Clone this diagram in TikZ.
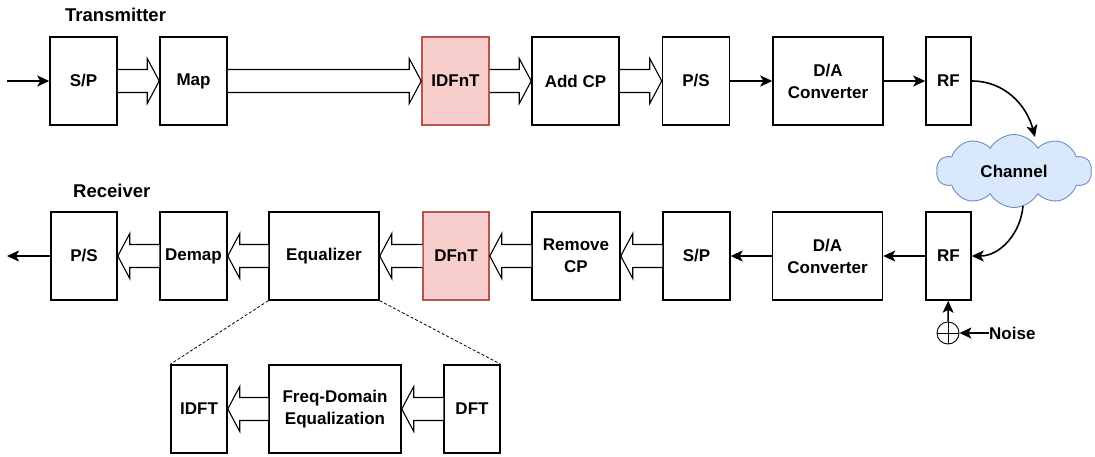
\documentclass[tikz,border=0pt]{standalone}
\usepackage{fontspec}
\setmainfont{Liberation Sans}
\usetikzlibrary{arrows.meta,shapes.symbols,calc}

\definecolor{dfntfill}{HTML}{F8CECC}
\definecolor{dfntline}{HTML}{B85450}
\definecolor{cloudfill}{HTML}{DAE8FC}
\definecolor{cloudline}{HTML}{6C8EBF}

% hollow block arrow: from, to, head offset (-12 right, 12 left)
\newcommand{\fatarrow}[3]{%
  \draw[fatline] ($(#1)+(0,11.5)$) -- ($(#2)+(#3,11.5)$) -- ($(#2)+(#3,22.5)$)
    -- (#2) -- ($(#2)+(#3,-22.5)$) -- ($(#2)+(#3,-11.5)$) -- ($(#1)+(0,-11.5)$);}

\begin{document}
\begin{tikzpicture}[x=1pt,y=1pt,
            font=\fontsize{17}{22}\selectfont\bfseries,
            block/.style={draw,line width=1.5pt,minimum width=#1,minimum height=88pt,
                inner sep=0pt,align=center},
            pink/.style={fill=dfntfill,draw=dfntline},
            fatline/.style={line width=1.1pt,fill=white},
            sarrow/.style={line width=1.6pt,-{Stealth[length=12pt,width=11pt,inset=3pt]}},
            zoomline/.style={line width=0.8pt,dash pattern=on 3pt off 2pt},
            title/.style={anchor=west,inner sep=0pt,font=\fontsize{18.5}{22}\selectfont\bfseries},
            ]
    \useasboundingbox (0,0) rectangle (1095,-456);

    \node[title] (txlabel) at (65,-15) {Transmitter};
    \node[title] (rxlabel) at (73,-191) {Receiver};

    % transmitter
    \node[block=67] (tsp) at (83.5,-81) {S/P};
    \node[block=67] (tmap) at (193.5,-81) {Map};
    \node[block=67,pink] (tidfnt) at (455.5,-81) {IDFnT};
    \node[block=87] (tcp) at (575.5,-81) {Add CP};
    \node[block=67] (tps) at (696,-81) {P/S};
    \node[block=110] (tda) at (828,-81) {D/A\\Converter};
    \node[block=45] (trf) at (948.5,-81) {RF};
    \coordinate (tin) at (7,-81);

    \node[cloud,cloud puffs=10,cloud puff arc=120,aspect=2.2,draw=cloudline,fill=cloudfill,
        line width=0.9pt,minimum width=155pt,minimum height=73pt,inner sep=0pt]
        (chan) at (1014,-171) {Channel};

    % receiver
    \node[block=66] (rps) at (84,-256) {P/S};
    \node[block=67] (rdemap) at (193.5,-256) {Demap};
    \node[block=110] (req) at (324,-256) {Equalizer};
    \node[block=66,pink] (rdfnt) at (456,-256) {DFnT};
    \node[block=88] (rcp) at (576,-256) {Remove\\CP};
    \node[block=67] (rsp) at (696.5,-256) {S/P};
    \node[block=110] (rda) at (827.5,-256) {D/A\\Converter};
    \node[block=45] (rrf) at (948.5,-256) {RF};
    \coordinate (rout) at (7,-256);

    \node[draw,circle,line width=0.9pt,minimum size=22pt,inner sep=0pt] (sum) at (948,-333) {};
    \draw[line width=0.9pt] (sum.north) -- (sum.south) (sum.west) -- (sum.east);
    \node[anchor=west,inner sep=0pt] (noise) at (989,-333) {Noise};

    % equalizer detail
    \node[block=56] (idft) at (199,-409) {IDFT};
    \node[block=132] (fde) at (335,-409) {Freq-Domain\\Equalization};
    \node[block=56] (dft) at (472,-409) {DFT};

    % connections
    \draw[sarrow] (tin) -- (tsp.west);
    \fatarrow{tsp.east}{tmap.west}{-12}
    \fatarrow{tmap.east}{tidfnt.west}{-12}
    \fatarrow{tidfnt.east}{tcp.west}{-12}
    \fatarrow{tcp.east}{tps.west}{-12}
    \draw[sarrow] (tps) -- (tda);
    \draw[sarrow] (tda) -- (trf);
    \draw[sarrow] (trf.east) to[out=0,in=105] ($(chan.north)+(21,-3)$);
    \draw[sarrow] ($(chan.south)+(9,2)$) to[out=-95,in=0] (rrf.east);

    \draw[sarrow] (rrf) -- (rda);
    \draw[sarrow] (rda) -- (rsp);
    \fatarrow{rsp.west}{rcp.east}{12}
    \fatarrow{rcp.west}{rdfnt.east}{12}
    \fatarrow{rdfnt.west}{req.east}{12}
    \fatarrow{req.west}{rdemap.east}{12}
    \fatarrow{rdemap.west}{rps.east}{12}
    \draw[sarrow] (rps.west) -- (rout);
    \draw[sarrow] (sum) -- (rrf);
    \draw[sarrow] (noise.west) -- (sum.east);

    \draw[zoomline] (req.south west) -- (idft.north west);
    \draw[zoomline] (req.south east) -- (dft.north east);
    \fatarrow{dft.west}{fde.east}{12}
    \fatarrow{fde.west}{idft.east}{12}
\end{tikzpicture}
\end{document}
